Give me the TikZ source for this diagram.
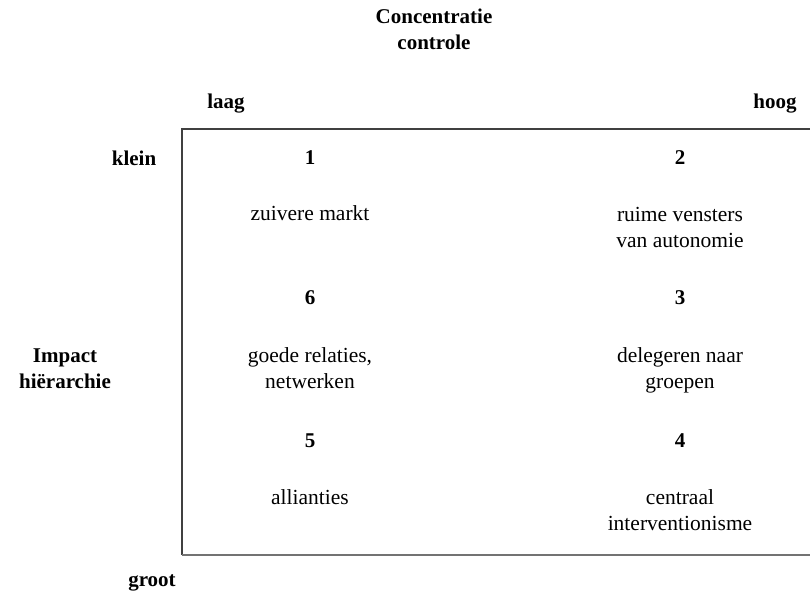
\documentclass[tikz,border=0pt]{standalone}
\usepackage{fontspec}
\setmainfont{Liberation Serif}
\begin{document}
\begin{tikzpicture}[x=1pt,y=-1pt,
  every node/.style={inner sep=0pt, align=center, font=\fontsize{21}{26}\selectfont},
  lab/.style={font=\fontsize{21}{26}\selectfont\bfseries},
  cell/.style={font=\fontsize{21.5}{26}\selectfont},
  boxline/.style={draw=black!75, line width=1.2pt}]
\useasboundingbox (0,0) rectangle (810,598);
\node[lab] (title) at (434,29) {Concentratie\\controle};
\node[lab] (laag) at (226,104) {laag};
\node[lab] (hoog) at (775,104) {hoog};
\node[lab] (klein) at (134,158) {klein};
\node[lab] (impact) at (65,369) {Impact\\hiërarchie};
\node[lab] (groot) at (152,583) {groot};
\coordinate (tl) at (182,129);
\coordinate (tr) at (810,129);
\coordinate (bl) at (182,555);
\coordinate (br) at (810,555);
\draw[boxline] (tr) -- (tl) -- (bl);
\draw[boxline, draw=black!55] (bl) -- (br);
\node[lab] (n1) at (310,158) {1};
\node[lab] (n2) at (680,158) {2};
\node[cell] (c1) at (310,213) {zuivere markt};
\node[cell] (c2) at (680,227) {ruime vensters\\van autonomie};
\node[lab] (n6) at (310,298) {6};
\node[lab] (n3) at (680,298) {3};
\node[cell] (c6) at (310,368) {goede relaties,\\netwerken};
\node[cell] (c3) at (680,370) {delegeren naar\\groepen};
\node[lab] (n5) at (310,441) {5};
\node[lab] (n4) at (680,441) {4};
\node[cell] (c5) at (310,497) {allianties};
\node[cell] (c4) at (680,510) {centraal\\interventionisme};
\end{tikzpicture}
\end{document}
